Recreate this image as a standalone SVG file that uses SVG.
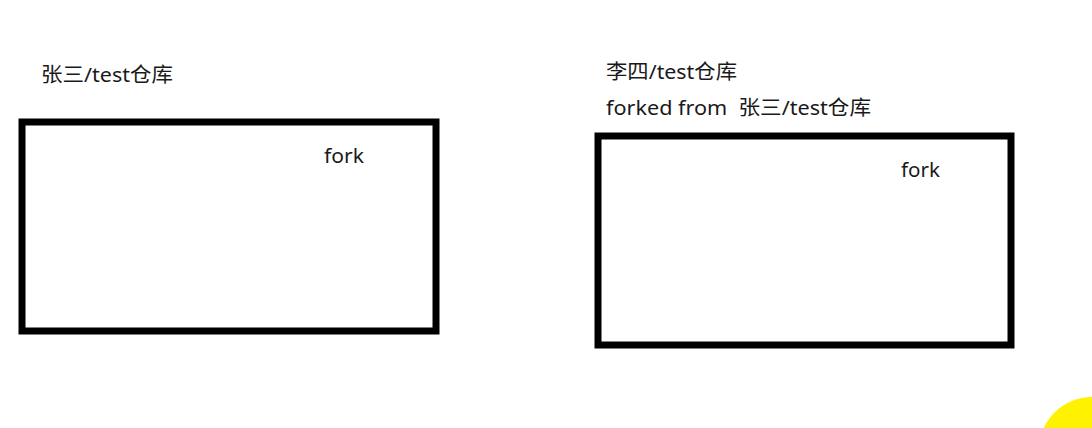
<svg xmlns="http://www.w3.org/2000/svg" width="1092" height="428" viewBox="0 0 1092 428">
<style>
.box{fill:#fff;stroke:#000;stroke-width:7}
.t{font-family:"Noto Sans","Noto Sans CJK SC",sans-serif;font-size:20px;fill:#1a1a1a;white-space:pre}
</style>
<rect width="1092" height="428" fill="#fff"/>
<g id="repo-zhangsan">
<text class="t" x="41" y="82" textLength="132" lengthAdjust="spacingAndGlyphs">张三/test仓库</text>
<rect class="box" x="22" y="122" width="414" height="209"/>
<text class="t" x="324" y="163" textLength="40" lengthAdjust="spacingAndGlyphs">fork</text>
</g>
<g id="repo-lisi">
<text class="t" x="606" y="79" textLength="131" lengthAdjust="spacingAndGlyphs">李四/test仓库</text>
<text class="t" x="606" y="115" textLength="265" lengthAdjust="spacingAndGlyphs" xml:space="preserve">forked from  张三/test仓库</text>
<rect class="box" x="598" y="136" width="413" height="209"/>
<text class="t" x="901" y="177" textLength="39" lengthAdjust="spacingAndGlyphs">fork</text>
</g>
<g id="connectors"></g>
<circle cx="1092" cy="450" r="53" fill="#fff200"/>
</svg>
